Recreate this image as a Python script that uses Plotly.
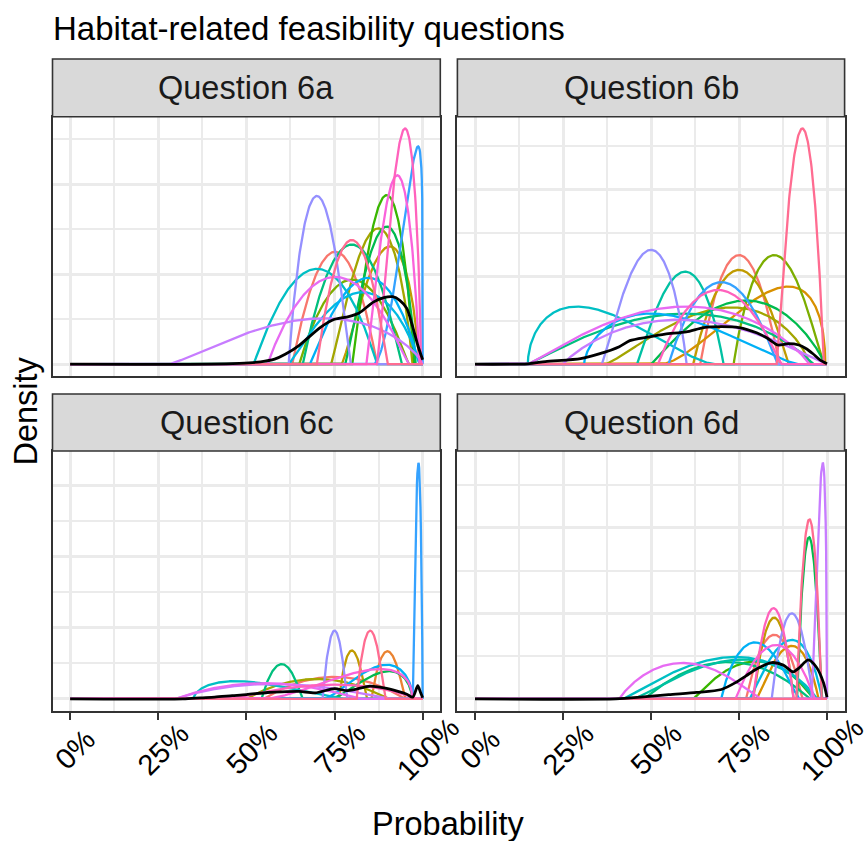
import numpy as np
import plotly.graph_objects as go

W, H = 865, 841
FONT = "Liberation Sans, Arial, sans-serif"

# ggplot hue palette for 20 experts
expert_colours = ["#F8766D", "#EA8331", "#D89000", "#C09B00", "#A3A500", "#7CAE00",
                  "#39B600", "#00BB4E", "#00BF7D", "#00C1A3", "#00BFC4", "#00BAE0",
                  "#00B0F6", "#35A2FF", "#9590FF", "#C77CFF", "#E76BF3", "#FA62DB",
                  "#FF62BC", "#FF6C91"]

panel_titles = ["Question 6a", "Question 6b", "Question 6c", "Question 6d"]
tick_values = [0, 0.25, 0.5, 0.75, 1.0]
tick_labels = ["0%", "25%", "50%", "75%", "100%"]

# ---- Question 6a : expert distributions (lower limit, mode, upper limit, peak density)
q6a_expert = [18, 13, 17, 6, 14, 4, 7, 3, 0, 19, 8, 10, 16, 15, 5, 12, 11]
q6a_low    = [0.87, 0.86, 0.84, 0.80, 0.62, 0.74, 0.78, 0.77, 0.63, 0.70, 0.66, 0.52, 0.56, 0.28, 0.65, 0.68, 0.62]
q6a_mode   = [0.95, 0.987, 0.928, 0.898, 0.70, 0.874, 0.898, 0.907, 0.752, 0.799, 0.799, 0.70, 0.752, 0.72, 0.80, 0.846, 0.83]
q6a_high   = [0.995, 1.0, 0.99, 0.975, 0.795, 0.97, 0.98, 0.99, 0.87, 0.90, 0.94, 0.87, 0.96, 1.0, 0.96, 0.99, 0.99]
q6a_peak   = [26.2, 24.2, 21.0, 18.8, 18.7, 15.1, 15.3, 13.1, 12.5, 13.8, 13.3, 10.6, 9.7, 5.1, 9.4, 9.6, 8.0]
q6a_pool_x = [0, 0.40, 0.48, 0.54, 0.58, 0.61, 0.65, 0.71, 0.75, 0.79, 0.82, 0.86, 0.89, 0.915, 0.935, 0.955, 0.97, 0.987, 1.0]
q6a_pool_y = [0, 0.0, 0.1, 0.26, 0.56, 1.1, 2.1, 4.1, 5.0, 5.3, 5.7, 6.9, 7.4, 7.5, 7.1, 6.2, 4.4, 2.0, 0.5]

# ---- Question 6b
q6b_expert = [19, 14, 0, 5, 3, 9, 13, 2, 18, 10, 16, 7, 4, 12, 15, 8]
q6b_low    = [0.857, 0.36, 0.64, 0.735, 0.62, 0.46, 0.55, 0.53, 0.52, 0.15, 0.15, 0.50, 0.37, 0.31, 0.25, 0.15]
q6b_mode   = [0.93, 0.50, 0.75, 0.85, 0.75, 0.597, 0.70, 0.89, 0.69, 0.29, 0.60, 0.77, 0.73, 0.50, 0.58, 0.60]
q6b_high   = [0.99, 0.60, 0.865, 0.99, 0.89, 0.705, 0.86, 0.995, 0.87, 0.68, 0.95, 0.995, 0.95, 0.92, 1.0, 0.96]
q6b_peak   = [27.0, 13.1, 12.5, 12.5, 10.8, 10.6, 9.4, 8.9, 8.5, 6.6, 6.6, 7.3, 6.5, 5.8, 5.1, 5.8]
q6b_pool_x = [0, 0.15, 0.2, 0.3, 0.35, 0.41, 0.44, 0.49, 0.54, 0.6, 0.65, 0.7, 0.75, 0.8, 0.83, 0.86, 0.89, 0.92, 0.94, 0.96, 0.98, 1.0]
q6b_pool_y = [0, 0.05, 0.3, 0.65, 1.15, 2.0, 2.7, 3.1, 3.45, 3.7, 4.2, 4.3, 4.2, 3.6, 3.0, 2.2, 2.35, 2.2, 1.8, 1.2, 0.5, 0.05]

# ---- Question 6c
q6c_expert = [13, 14, 19, 3, 1, 12, 7, 8, 10, 16, 15, 17, 0, 4, 18]
q6c_low    = [0.972, 0.716, 0.813, 0.763, 0.855, 0.72, 0.74, 0.543, 0.35, 0.30, 0.30, 0.55, 0.55, 0.50, 0.45]
q6c_mode   = [0.988, 0.75, 0.851, 0.799, 0.90, 0.898, 0.905, 0.60, 0.47, 0.55, 0.58, 0.88, 0.75, 0.70, 0.75]
q6c_high   = [1.0, 0.785, 0.893, 0.841, 0.95, 0.973, 0.97, 0.658, 0.78, 0.82, 0.90, 0.97, 0.95, 0.90, 0.98]
q6c_peak   = [33.2, 9.6, 9.6, 6.8, 6.7, 4.8, 3.9, 4.9, 2.5, 2.2, 2.1, 4.2, 3.1, 2.8, 2.0]
q6c_pool_x = [0, 0.32, 0.37, 0.41, 0.46, 0.5, 0.56, 0.6, 0.65, 0.695, 0.75, 0.785, 0.81, 0.85, 0.89, 0.93, 0.955, 0.972, 0.986, 0.994, 1.0]
q6c_pool_y = [0, 0.0, 0.15, 0.25, 0.45, 0.6, 0.9, 1.0, 1.05, 0.85, 1.45, 1.15, 1.35, 1.8, 1.55, 1.05, 0.65, 0.25, 1.85, 0.9, 0.15]

# ---- Question 6d
q6d_expert = [15, 19, 7, 18, 3, 14, 0, 12, 11, 2, 17, 10, 9, 8, 6, 16]
q6d_low    = [0.955, 0.913, 0.915, 0.79, 0.79, 0.843, 0.77, 0.70, 0.78, 0.80, 0.74, 0.42, 0.45, 0.48, 0.62, 0.41]
q6d_mode   = [0.988, 0.95, 0.949, 0.848, 0.85, 0.90, 0.85, 0.795, 0.90, 0.90, 0.855, 0.74, 0.76, 0.72, 0.80, 0.59]
q6d_high   = [1.0, 0.985, 0.985, 0.904, 0.905, 0.961, 0.93, 0.92, 0.985, 0.975, 0.965, 0.97, 0.96, 0.95, 0.96, 0.81]
q6d_peak   = [27.6, 21.0, 18.9, 10.6, 9.5, 10.0, 7.5, 6.6, 6.9, 6.2, 6.3, 4.9, 4.6, 4.3, 4.4, 4.2]
q6d_pool_x = [0, 0.4, 0.47, 0.55, 0.63, 0.7, 0.74, 0.77, 0.8, 0.843, 0.876, 0.904, 0.92, 0.947, 0.97, 0.99, 1.0]
q6d_pool_y = [0, 0.0, 0.2, 0.5, 0.75, 1.1, 1.9, 2.7, 3.5, 4.25, 3.95, 3.15, 3.6, 4.55, 3.7, 1.9, 0.2]

panels = [
    (q6a_expert, q6a_low, q6a_mode, q6a_high, q6a_peak, q6a_pool_x, q6a_pool_y),
    (q6b_expert, q6b_low, q6b_mode, q6b_high, q6b_peak, q6b_pool_x, q6b_pool_y),
    (q6c_expert, q6c_low, q6c_mode, q6c_high, q6c_peak, q6c_pool_x, q6c_pool_y),
    (q6d_expert, q6d_low, q6d_mode, q6d_high, q6d_peak, q6d_pool_x, q6d_pool_y),
]


def scaled_beta(lo, mo, hi, pk):
    """Scaled beta density on [lo, hi] with the given mode, drawn with the given peak height."""
    xs = np.unique(np.concatenate([np.linspace(0, 1, 801), [lo, mo, hi]]))
    m = (mo - lo) / (hi - lo)
    a = 1 + 2 * m
    b = 1 + 2 * (1 - m)
    t = (xs - lo) / (hi - lo)
    inside = (t > 0) & (t < 1)
    f = np.zeros_like(xs)
    f[inside] = t[inside] ** (a - 1) * (1 - t[inside]) ** (b - 1)
    fmax = m ** (a - 1) * (1 - m) ** (b - 1)
    return xs, pk * f / fmax


# pixel geometry of the facet grid
px_x = [(52.5, 440.3), (457.4, 844.6), (52.5, 440.3), (457.4, 844.6)]
px_y = [(116.7, 376.0), (116.7, 376.0), (451.0, 710.7), (451.0, 710.7)]
strip_y = [(59.0, 116.7), (59.0, 116.7), (394.0, 451.0), (394.0, 451.0)]

GRID = "#EBEBEB"
fig = go.Figure()
layout = dict()
shapes = []
annotations = []

for i, (ex, lo, mo, hi, pk, bx, by) in enumerate(panels):
    n = i + 1
    xa = "x" if n == 1 else f"x{n}"
    ya = "y" if n == 1 else f"y{n}"
    order = np.argsort(ex, kind="stable")
    ymax = 0
    for j in order:
        xs, ys = scaled_beta(lo[j], mo[j], hi[j], pk[j])
        ymax = max(ymax, ys.max())
        fig.add_trace(go.Scatter(x=xs, y=ys, mode="lines", xaxis=xa, yaxis=ya,
                                 line=dict(color=expert_colours[ex[j]], width=2.3),
                                 showlegend=False, hoverinfo="skip"))
    fig.add_trace(go.Scatter(x=bx, y=by, mode="lines", xaxis=xa, yaxis=ya,
                             line=dict(color="black", width=2.8, shape="spline", smoothing=0.7),
                             showlegend=False, hoverinfo="skip"))

    x0, x1 = px_x[i]
    y0, y1 = px_y[i]
    bottom = i >= 2
    xkey = "xaxis" if n == 1 else f"xaxis{n}"
    ykey = "yaxis" if n == 1 else f"yaxis{n}"
    layout[xkey] = dict(
        domain=[x0 / W, x1 / W], anchor=ya, range=[-0.05, 1.05],
        tickvals=tick_values, showticklabels=False,
        ticks="outside" if bottom else "", ticklen=7, tickwidth=2, tickcolor="#333333",
        showgrid=True, gridcolor=GRID, gridwidth=2.7, zeroline=False,
        minor=dict(tickvals=[0.125, 0.375, 0.625, 0.875], showgrid=True,
                   gridcolor=GRID, gridwidth=1.5, ticks=""),
        showline=True, linecolor="#333333", linewidth=1.6, mirror=True, fixedrange=True)
    maj = list(np.arange(0, ymax * 1.1, 10))
    mnr = list(np.arange(5, ymax * 1.1, 10))
    layout[ykey] = dict(
        domain=[1 - y1 / H, 1 - y0 / H], anchor=xa,
        range=[-0.05 * ymax, 1.05 * ymax], tickvals=maj, showticklabels=False, ticks="",
        showgrid=True, gridcolor=GRID, gridwidth=2.7, zeroline=False,
        minor=dict(tickvals=mnr, showgrid=True, gridcolor=GRID, gridwidth=1.5, ticks=""),
        showline=True, linecolor="#333333", linewidth=1.6, mirror=True, fixedrange=True)

    # facet strip
    s0, s1 = strip_y[i]
    shapes.append(dict(type="rect", xref="paper", yref="paper",
                       x0=x0 / W, x1=x1 / W, y0=1 - s1 / H, y1=1 - s0 / H,
                       fillcolor="#D9D9D9", line=dict(color="#333333", width=1.6), layer="above"))
    annotations.append(dict(text=panel_titles[i], xref="paper", yref="paper",
                            x=(x0 + x1) / 2 / W, y=1 - (s0 + s1) / 2 / H,
                            xanchor="center", yanchor="middle", showarrow=False,
                            font=dict(size=32.5, color="#1A1A1A", family=FONT)))
    if bottom:
        for tv, tl in zip(tick_values, tick_labels):
            annotations.append(dict(text=tl, xref=xa, yref="paper",
                                    x=tv + 0.0148, y=1 - 749 / H,
                                    xanchor="center", yanchor="middle", textangle=-45,
                                    showarrow=False,
                                    font=dict(size=29, color="#000000", family=FONT)))

annotations.append(dict(text="Habitat-related feasibility questions", xref="paper", yref="paper",
                        x=50.5 / W, y=1 - 28.5 / H, xanchor="left", yanchor="middle",
                        showarrow=False, font=dict(size=33, color="#000000", family=FONT)))
annotations.append(dict(text="Probability", xref="paper", yref="paper",
                        x=448 / W, y=1 - 823.5 / H, xanchor="center", yanchor="middle",
                        showarrow=False, font=dict(size=32.5, color="#000000", family=FONT)))
annotations.append(dict(text="Density", xref="paper", yref="paper",
                        x=25 / W, y=1 - 411.5 / H, xanchor="center", yanchor="middle",
                        textangle=-90, showarrow=False,
                        font=dict(size=32.5, color="#000000", family=FONT)))

fig.update_layout(
    width=W, height=H, margin=dict(l=0, r=0, t=0, b=0),
    paper_bgcolor="white", plot_bgcolor="white",
    font=dict(family=FONT), showlegend=False,
    shapes=shapes, annotations=annotations, **layout)

fig.write_html("out.html", config={"displayModeBar": False})
